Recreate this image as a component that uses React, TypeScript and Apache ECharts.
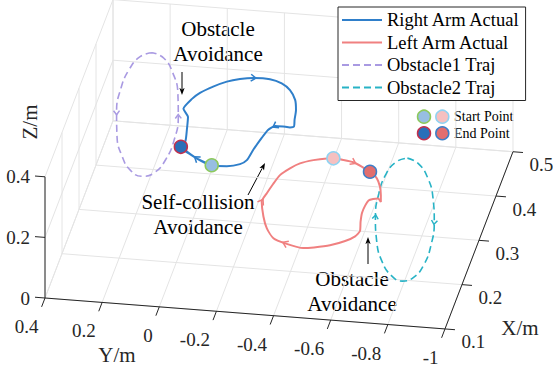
import React, { useEffect, useRef } from "react";
import * as echarts from "echarts";

// ---------- axis ticks ----------
const yTicks = [0.4, 0.2, 0, -0.2, -0.4, -0.6, -0.8, -1];
const yTickLabels = ["0.4", "0.2", "0", "-0.2", "-0.4", "-0.6", "-0.8", "-1"];
const xTicks = [0.1, 0.2, 0.3, 0.4, 0.5];
const xTickLabels = ["0.1", "0.2", "0.3", "0.4", "0.5"];
const zTicks = [0, 0.2, 0.4];
const zTickLabels = ["0", "0.2", "0.4"];

// ---------- data: [Y, X, Z] in metres ----------
const rightArm: number[][] = [
  [-0.005, 0.4, 0.029], [0.048, 0.4, 0.048], [0.103, 0.4, 0.082], [0.087, 0.4, 0.102],
  [0.082, 0.4, 0.139], [0.078, 0.4, 0.182], [0.094, 0.4, 0.208], [0.064, 0.4, 0.243],
  [0.036, 0.4, 0.265], [-0.010, 0.4, 0.289], [-0.058, 0.4, 0.309], [-0.104, 0.4, 0.321],
  [-0.151, 0.4, 0.328], [-0.209, 0.4, 0.328], [-0.250, 0.4, 0.317], [-0.279, 0.4, 0.297],
  [-0.297, 0.4, 0.266], [-0.300, 0.4, 0.233], [-0.295, 0.4, 0.200], [-0.293, 0.4, 0.178],
  [-0.279, 0.4, 0.174], [-0.255, 0.4, 0.175], [-0.227, 0.4, 0.175], [-0.202, 0.4, 0.160],
  [-0.180, 0.4, 0.132], [-0.150, 0.4, 0.090], [-0.128, 0.4, 0.055], [-0.104, 0.4, 0.040],
  [-0.058, 0.4, 0.030], [-0.005, 0.4, 0.029], [0.048, 0.4, 0.048], [0.103, 0.4, 0.082],
];
const leftArm: number[][] = [
  [-0.550, 0.2, 0.384], [-0.585, 0.2, 0.381], [-0.620, 0.2, 0.376], [-0.649, 0.2, 0.364],
  [-0.678, 0.2, 0.349], [-0.702, 0.2, 0.329], [-0.713, 0.2, 0.302], [-0.716, 0.2, 0.275],
  [-0.716, 0.2, 0.252], [-0.706, 0.2, 0.263], [-0.689, 0.2, 0.260], [-0.673, 0.2, 0.254],
  [-0.661, 0.2, 0.236], [-0.650, 0.2, 0.211], [-0.645, 0.2, 0.181], [-0.643, 0.2, 0.151],
  [-0.626, 0.2, 0.132], [-0.591, 0.2, 0.114], [-0.538, 0.2, 0.096], [-0.482, 0.2, 0.085],
  [-0.444, 0.2, 0.080], [-0.381, 0.2, 0.091], [-0.340, 0.2, 0.105], [-0.317, 0.2, 0.136],
  [-0.305, 0.2, 0.174], [-0.299, 0.2, 0.223], [-0.317, 0.2, 0.252], [-0.339, 0.2, 0.284],
  [-0.363, 0.2, 0.315], [-0.398, 0.2, 0.340], [-0.433, 0.2, 0.359], [-0.480, 0.2, 0.373],
  [-0.527, 0.2, 0.382], [-0.550, 0.2, 0.384], [-0.585, 0.2, 0.381], [-0.620, 0.2, 0.376],
  [-0.649, 0.2, 0.364], [-0.678, 0.2, 0.349],
];
const obstacle1: number[][] = [
  [0.220, 0.430, 0.340], [0.261, 0.428, 0.328], [0.296, 0.421, 0.293], [0.320, 0.411, 0.241],
  [0.328, 0.400, 0.180], [0.320, 0.389, 0.119], [0.296, 0.379, 0.067], [0.261, 0.372, 0.032],
  [0.220, 0.370, 0.020], [0.179, 0.372, 0.032], [0.144, 0.379, 0.067], [0.120, 0.389, 0.119],
  [0.112, 0.400, 0.180], [0.120, 0.411, 0.241], [0.144, 0.421, 0.293], [0.179, 0.428, 0.328],
  [0.220, 0.430, 0.340],
];
const obstacle2: number[][] = [
  [-0.800, 0.215, 0.381], [-0.839, 0.214, 0.367], [-0.873, 0.211, 0.328], [-0.895, 0.206, 0.269],
  [-0.903, 0.200, 0.200], [-0.895, 0.194, 0.131], [-0.873, 0.189, 0.072], [-0.839, 0.186, 0.033],
  [-0.800, 0.185, 0.019], [-0.761, 0.186, 0.033], [-0.727, 0.189, 0.072], [-0.705, 0.194, 0.131],
  [-0.697, 0.200, 0.200], [-0.705, 0.206, 0.269], [-0.727, 0.211, 0.328], [-0.761, 0.214, 0.367],
  [-0.800, 0.215, 0.381],
];
const rightStart = [-0.005, 0.4, 0.029];
const rightEnd = [0.103, 0.4, 0.082];
const leftStart = [-0.550, 0.2, 0.384];
const leftEnd = [-0.678, 0.2, 0.349];

// indices of points where a direction arrow is drawn
const rightArmArrows = [1, 12, 22];
const leftArmArrows = [2, 21, 25];
const obstacle1Arrows = [4, 12];
const obstacle2Arrows = [4, 12];

// ---------- styles ----------
const BLUE = "#2f7fca";
const RED = "#f08080";
const PURPLE = "#a99ae2";
const TEAL = "#28b3c6";
const GRIDC = "#e4e4e4";
const AXISC = "#262626";
const FONT = "Liberation Serif";

// ---------- view (orthographic projection of the 3-D box) ----------
const Ylim = [-1, 0.4];
const Xlim = [0.1, 0.5];
const Zlim = [0, 0.4];
const VIEW = { ox: 45, oy: 298, yx: 285.7, yy: 22.1, xx: 170, xy: -443, zy: -303 };
const P = (p: number[]) => {
  const [Y, X, Z] = p;
  const u = Ylim[1] - Y;
  const v = X - Xlim[0];
  return [VIEW.ox + u * VIEW.yx + v * VIEW.xx, VIEW.oy + u * VIEW.yy + v * VIEW.xy + Z * VIEW.zy];
};
const seg = (a: number[], b: number[]) => [...P(a), ...P(b)];

function buildOption() {
  const [Ymin, Ymax] = Ylim;
  const [Xmin, Xmax] = Xlim;
  const Zmax = Zlim[1];

  const gridSegs: number[][] = [];
  yTicks.forEach((y) => {
    gridSegs.push(seg([y, Xmin, 0], [y, Xmax, 0]));
    gridSegs.push(seg([y, Xmax, 0], [y, Xmax, Zmax]));
  });
  xTicks.forEach((x) => {
    gridSegs.push(seg([Ymax, x, 0], [Ymin, x, 0]));
    gridSegs.push(seg([Ymax, x, 0], [Ymax, x, Zmax]));
  });
  zTicks.forEach((z) => {
    gridSegs.push(seg([Ymax, Xmax, z], [Ymin, Xmax, z]));
    gridSegs.push(seg([Ymax, Xmin, z], [Ymax, Xmax, z]));
  });

  const axisSegs: number[][] = [
    seg([Ymax, Xmin, 0], [Ymin, Xmin, 0]),
    seg([Ymin, Xmin, 0], [Ymin, Xmax, 0]),
    seg([Ymax, Xmin, 0], [Ymax, Xmin, Zmax]),
  ];
  yTicks.forEach((y) => axisSegs.push(seg([y, Xmin, 0], [y, Xmin - 0.02, 0])));
  xTicks.forEach((x) => axisSegs.push(seg([Ymin, x, 0], [Ymin - 0.035, x, 0])));
  zTicks.forEach((z) => axisSegs.push(seg([Ymax, Xmin, z], [Ymax + 0.035, Xmin, z])));

  const labelItems: { value: number[]; text: string; align: string }[] = [];
  yTicks.forEach((y, i) => {
    const [sx, sy] = P([y, Xmin, 0]);
    labelItems.push({ value: [sx - 6.5, sy + 28.5], text: yTickLabels[i], align: "right" });
  });
  xTicks.forEach((x, i) => {
    const [sx, sy] = P([Ymin, x, 0]);
    labelItems.push({ value: [sx + 16.5, sy + 13], text: xTickLabels[i], align: "left" });
  });
  zTicks.forEach((z, i) => {
    const [sx, sy] = P([Ymax, Xmin, z]);
    labelItems.push({ value: [sx - 15, sy], text: zTickLabels[i], align: "right" });
  });

  const arrowItems = (pts: number[][], idx: number[]) => idx.map((i) => [...P(pts[i]), ...P(pts[i + 1])]);

  const segSeries = (name: string, data: number[][], color: string, width: number, z: number) => ({
    type: "custom",
    name,
    coordinateSystem: "cartesian2d",
    dimensions: ["x1", "y1", "x2", "y2"],
    encode: { x: [0, 2], y: [1, 3] },
    data,
    silent: true,
    z,
    clip: false,
    renderItem: (_p: any, api: any) => {
      const a = api.coord([api.value(0), api.value(1)]);
      const b = api.coord([api.value(2), api.value(3)]);
      return {
        type: "line",
        shape: { x1: a[0], y1: a[1], x2: b[0], y2: b[1] },
        style: { stroke: color, lineWidth: width },
      };
    },
  });

  const arrowSeries = (name: string, data: number[][], color: string, len: number, w: number) => ({
    type: "custom",
    name,
    coordinateSystem: "cartesian2d",
    dimensions: ["x1", "y1", "x2", "y2"],
    encode: { x: [0, 2], y: [1, 3] },
    data,
    silent: true,
    z: 5,
    clip: false,
    renderItem: (_p: any, api: any) => {
      const a = api.coord([api.value(0), api.value(1)]);
      const b = api.coord([api.value(2), api.value(3)]);
      let dx = b[0] - a[0];
      let dy = b[1] - a[1];
      const L = Math.hypot(dx, dy) || 1;
      dx /= L;
      dy /= L;
      const tip = [a[0] + dx * 2.5, a[1] + dy * 2.5];
      const nx = -dy;
      const ny = dx;
      return {
        type: "polyline",
        shape: {
          points: [
            [tip[0] - dx * len + nx * w, tip[1] - dy * len + ny * w],
            tip,
            [tip[0] - dx * len - nx * w, tip[1] - dy * len - ny * w],
          ],
        },
        style: { stroke: color, lineWidth: 1.5, fill: null },
      };
    },
  });

  const marker = (name: string, p: number[], fill: string, edge: string) => ({
    type: "scatter",
    name,
    data: [P(p)],
    symbol: "circle",
    symbolSize: 13,
    itemStyle: { color: fill, borderColor: edge, borderWidth: 1.5, opacity: 1 },
    silent: true,
    z: 6,
  });

  const arrowHead = (tx: number, ty: number, fx: number, fy: number) => {
    let dx = tx - fx;
    let dy = ty - fy;
    const L = Math.hypot(dx, dy);
    dx /= L;
    dy /= L;
    const bx = tx - dx * 7;
    const by = ty - dy * 7;
    return [
      { type: "line", shape: { x1: fx, y1: fy, x2: bx + dx, y2: by + dy }, style: { stroke: "#000", lineWidth: 1 } },
      {
        type: "polygon",
        shape: { points: [[tx, ty], [bx - dy * 2.6, by + dx * 2.6], [bx + dx * 1.5, by + dy * 1.5], [bx + dy * 2.6, by - dx * 2.6]] },
        style: { fill: "#000" },
      },
    ];
  };

  const annoText = (x: number, y: number, text: string) => ({
    type: "text",
    x,
    y,
    style: { text, fill: "#000", fontSize: 21, fontFamily: FONT, align: "center", verticalAlign: "middle", lineHeight: 25 },
  });

  const smallMarker = (cx: number, cy: number, fill: string, edge: string) => ({
    type: "circle",
    shape: { cx, cy, r: 6.5 },
    style: { fill, stroke: edge, lineWidth: 1.5 },
  });

  return {
    animation: false,
    tooltip: { show: false },
    textStyle: { fontFamily: FONT },
    grid: { left: 0, right: 0, top: 0, bottom: 0, containLabel: false, outerBoundsMode: "none" },
    xAxis: { type: "value", min: 0, max: 553, show: false, axisLabel: { show: false } },
    yAxis: { type: "value", min: 0, max: 368, inverse: true, show: false, axisLabel: { show: false } },
    legend: {
      data: ["Right Arm Actual", "Left Arm Actual", "Obstacle1 Traj", "Obstacle2 Traj"],
      orient: "vertical",
      left: 338,
      top: 7,
      padding: [3, 5, 3, 3],
      itemGap: 2.5,
      itemWidth: 40,
      itemHeight: 14,
      itemStyle: { opacity: 0 },
      backgroundColor: "#fff",
      borderColor: AXISC,
      borderWidth: 1,
      borderRadius: 0,
      selectedMode: false,
      textStyle: { fontFamily: FONT, fontSize: 18.5, color: "#000", lineHeight: 20 },
      z: 20,
    },
    series: [
      segSeries("grid", gridSegs, GRIDC, 1, 1),
      segSeries("axes", axisSegs, AXISC, 1, 2),
      {
        type: "custom",
        name: "ticklabels",
        coordinateSystem: "cartesian2d",
        data: labelItems.map((d) => d.value),
        silent: true,
        z: 2,
        clip: false,
        renderItem: (params: any, api: any) => {
          const it = labelItems[params.dataIndex];
          const c = api.coord([api.value(0), api.value(1)]);
          return {
            type: "text",
            x: c[0],
            y: c[1],
            style: { text: it.text, fill: AXISC, fontSize: 19, fontFamily: FONT, align: it.align, verticalAlign: "middle" },
          };
        },
      },
      {
        type: "line",
        name: "Obstacle1 Traj",
        data: obstacle1.map(P),
        symbol: "none",
        smooth: true,
        lineStyle: { color: PURPLE, width: 1.6, type: [7, 4] },
        itemStyle: { color: PURPLE },
        silent: true,
        z: 3,
      },
      {
        type: "line",
        name: "Obstacle2 Traj",
        data: obstacle2.map(P),
        symbol: "none",
        smooth: true,
        lineStyle: { color: TEAL, width: 1.6, type: [7, 4] },
        itemStyle: { color: TEAL },
        silent: true,
        z: 3,
      },
      {
        type: "line",
        name: "Right Arm Actual",
        data: rightArm.map(P),
        symbol: "none",
        smooth: 0.2,
        lineStyle: { color: BLUE, width: 2 },
        itemStyle: { color: BLUE },
        silent: true,
        z: 4,
      },
      {
        type: "line",
        name: "Left Arm Actual",
        data: leftArm.map(P),
        symbol: "none",
        smooth: 0.2,
        lineStyle: { color: RED, width: 2 },
        itemStyle: { color: RED },
        silent: true,
        z: 4,
      },
      arrowSeries("a1", arrowItems(rightArm, rightArmArrows), BLUE, 5, 3.5),
      arrowSeries("a2", arrowItems(leftArm, leftArmArrows), RED, 5, 3.5),
      arrowSeries("a3", arrowItems(obstacle1, obstacle1Arrows), PURPLE, 4, 3),
      arrowSeries("a4", arrowItems(obstacle2, obstacle2Arrows), TEAL, 4, 3),
      marker("Right Start", rightStart, "#97bee2", "#8dc95c"),
      marker("Right End", rightEnd, "#2a6fb8", "#c2304d"),
      marker("Left Start", leftStart, "#f6c0c0", "#8fd3f2"),
      marker("Left End", leftEnd, "#e26e6e", "#3c7fc8"),
    ],
    graphic: [
      annoText(218, 41, "Obstacle\nAvoidance"),
      annoText(198, 214, "Self-collision\nAvoidance"),
      annoText(352, 291, "Obstacle\nAvoidance"),
      ...arrowHead(182, 95, 182, 72),
      ...arrowHead(265, 163, 248, 195),
      ...arrowHead(368, 237, 368, 264),
      smallMarker(424, 116.7, "#97bee2", "#8dc95c"),
      smallMarker(442.3, 116.7, "#f6c0c0", "#8fd3f2"),
      smallMarker(424, 133.3, "#2a6fb8", "#c2304d"),
      smallMarker(442.3, 133.3, "#e26e6e", "#3c7fc8"),
      { type: "text", x: 454, y: 116.7, style: { text: "Start Point", fill: "#000", fontSize: 14, fontFamily: FONT, align: "left", verticalAlign: "middle" } },
      { type: "text", x: 454, y: 133.3, style: { text: "End Point", fill: "#000", fontSize: 14, fontFamily: FONT, align: "left", verticalAlign: "middle" } },
      { type: "text", x: 117, y: 355, style: { text: "Y/m", fill: AXISC, fontSize: 21, fontFamily: FONT, align: "center", verticalAlign: "middle" } },
      { type: "text", x: 520, y: 328, style: { text: "X/m", fill: AXISC, fontSize: 21, fontFamily: FONT, align: "center", verticalAlign: "middle" } },
      { type: "text", x: 30, y: 122, rotation: Math.PI / 2, style: { text: "Z/m", fill: AXISC, fontSize: 21, fontFamily: FONT, align: "center", verticalAlign: "middle" } },
    ],
  };
}

export default function App() {
  const ref = useRef<HTMLDivElement>(null);
  useEffect(() => {
    if (!ref.current) return;
    document.body.style.margin = "0";
    document.documentElement.style.margin = "0";
    const chart = echarts.init(ref.current, undefined, { renderer: "svg" });
    chart.setOption(buildOption() as any);
    return () => chart.dispose();
  }, []);
  return <div ref={ref} style={{ position: "relative", width: 553, height: 368, background: "#fff", overflow: "hidden" }} />;
}
